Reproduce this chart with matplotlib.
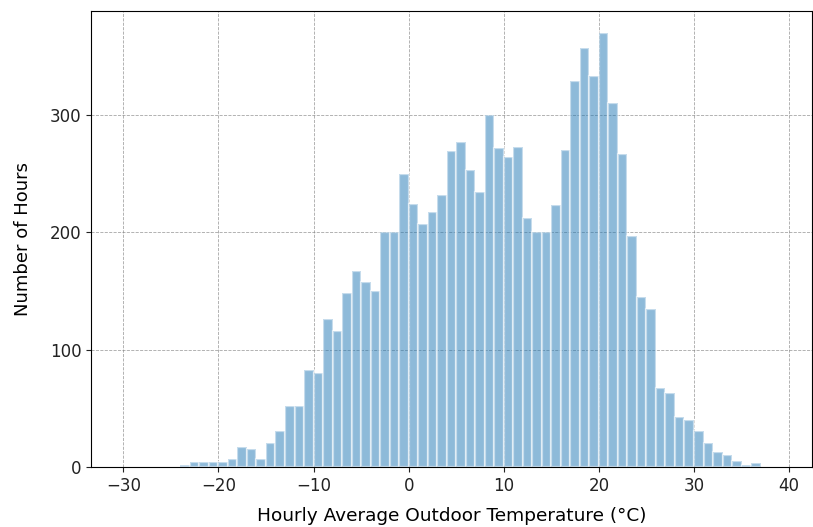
import numpy as np
import matplotlib
matplotlib.use('Agg')
import matplotlib.pyplot as plt

# hourly temperature histogram, 1 degC bins from -24 to 37
bin_edges = np.arange(-24, 38)
hours = [1.5, 4, 4, 4, 4, 7, 17, 15, 7, 20,
         31, 52, 52, 83, 80, 126, 116, 148, 167, 158,
         150, 200, 200, 250, 224, 207, 217, 232, 269, 277,
         253, 234, 300, 272, 264, 273, 212, 200, 200, 223,
         270, 329, 357, 333, 370, 310, 267, 197, 145, 135,
         67, 63, 43, 40, 31, 20, 13, 10, 5, 2,
         3.5]

xticks = [-30, -20, -10, 0, 10, 20, 30, 40]
yticks = [0, 100, 200, 300]

fig = plt.figure(figsize=(8.13, 5.27), dpi=100)
ax = fig.add_axes([0.1119, 0.1139, 0.8868, 0.8653])

ax.hist(bin_edges[:-1], bins=bin_edges, weights=hours,
        alpha=0.5, edgecolor='white', linewidth=1.6)

ax.set_xlim(-33.4, 42.4)
ax.set_ylim(0, 388.5)
ax.set_xticks(xticks)
ax.set_yticks(yticks)
ax.tick_params(labelsize=12, colors='#222222')
ax.set_axisbelow(True)
ax.grid(True, linestyle='--', color='gray', linewidth=0.6, alpha=0.7)

ax.set_xlabel('Hourly Average Outdoor Temperature (°C)', fontsize=13.3, labelpad=9)
ax.set_ylabel('Number of Hours', fontsize=13, labelpad=13)

fig.savefig('out.png', dpi=100)
